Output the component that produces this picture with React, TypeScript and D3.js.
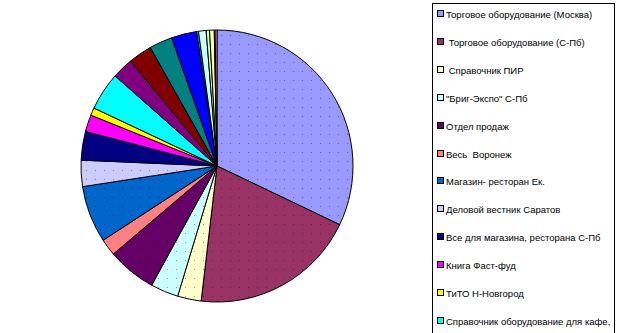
import React from "react";
import * as d3 from "d3";

const values = [32.0, 19.7, 2.8, 3.3, 5.8, 2.0, 6.75, 3.1, 3.4, 2.0, 0.9, 4.5, 2.5, 2.8, 2.75, 3.0, 0.22, 0.9, 0.4, 0.55, 0.1, 0.22];
const colors = ["#9999FF", "#993366", "#FFFFCC", "#CCFFFF", "#660066", "#FF8080", "#0066CC", "#CCCCFF", "#000080", "#FF00FF", "#FFFF00", "#00FFFF", "#800080", "#800000", "#008080", "#0000FF", "#00CCFF", "#CCFFFF", "#CCFFCC", "#FFFF99", "#99CCFF", "#FF99CC"];
const dotted = [true, true, true, true, true, false, true, true, false, false, false, false, false, false, false, false, false, false, false, false, false, false];
const legendLabels = [
  "Торговое оборудование (Москва)",
  " Торговое оборудование (С-Пб)",
  " Справочник ПИР",
  "\"Бриг-Экспо\" С-Пб",
  "Отдел продаж",
  "Весь  Воронеж",
  "Магазин- ресторан Ек.",
  "Деловой вестник Саратов",
  "Все для магазина, ресторана С-Пб",
  "Книга Фаст-фуд",
  "ТиТО Н-Новгород",
  "Справочник оборудование для кафе,",
];

export default function App() {
  const W = 623, H = 333;
  const cx = 217, cy = 166, r = 136;
  const pie = d3.pie<number>().sort(null).value((d) => d);
  const arcs = pie(values);
  const arc = d3.arc<d3.PieArcDatum<number>>().innerRadius(0).outerRadius(r);
  const dotColor = (c: string) => d3.color(c)!.darker(1.2).formatHex();
  return (
    <svg width={W} height={H} style={{ position: "absolute", left: 0, top: 0, background: "#fff" }} shapeRendering="crispEdges">
      <defs>
        {colors.map((c, i) =>
          dotted[i] ? (
            <pattern key={i} id={`p${i}`} width={9} height={9} patternUnits="userSpaceOnUse">
              <rect width={9} height={9} fill={c} />
              <rect x={4} y={4} width={1} height={1} fill={dotColor(c)} />
            </pattern>
          ) : null
        )}
      </defs>
      <rect width={W} height={H} fill="#fff" />
      <g transform={`translate(${cx},${cy})`}>
        {arcs.map((a, i) => (
          <path key={i} d={arc(a)!} fill={dotted[i] ? `url(#p${i})` : colors[i]} stroke="#000" strokeWidth={1} shapeRendering="auto" />
        ))}
      </g>
      <rect x={432.5} y={3.5} width={182} height={345} fill="#fff" stroke="#000" strokeWidth={1} />
      {legendLabels.map((l, i) => {
        const y = 14 + i * 27.9;
        return (
          <g key={i}>
            <rect x={437.5} y={Math.round(y) - 3.5} width={6} height={6} fill={colors[i]} stroke="#000" strokeWidth={1} />
            <text x={446} y={Math.round(y) + 3.5} fontFamily="Arial, 'Liberation Sans', sans-serif" fontSize={9.5} fill="#000" style={{ whiteSpace: "pre" }}>
              {l}
            </text>
          </g>
        );
      })}
    </svg>
  );
}
